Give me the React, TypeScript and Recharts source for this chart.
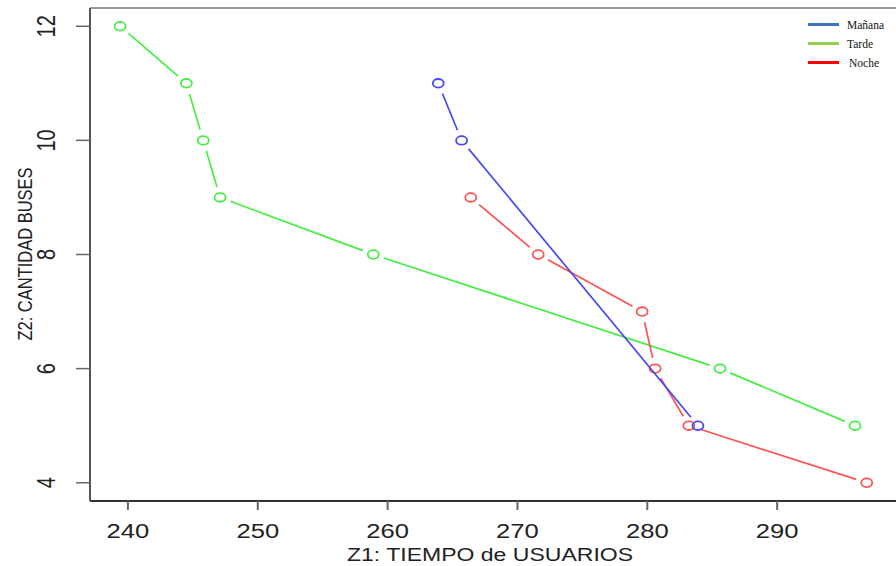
import React from 'react';
import {
    ScatterChart,
    Scatter,
    XAxis,
    YAxis,
    ReferenceLine
} from 'recharts';

// values (Z1 = tiempo, Z2 = buses)
const mananaX = [263.9, 265.7, 283.9];
const mananaY = [11, 10, 5];
const tardeX = [239.4, 244.5, 245.8, 247.1, 258.9, 285.6, 296.0];
const tardeY = [12, 11, 10, 9, 8, 6, 5];
const nocheX = [266.4, 271.6, 279.6, 280.6, 283.2, 296.9];
const nocheY = [9, 8, 7, 6, 5, 4];

const xTicks = [240, 250, 260, 270, 280, 290];
const yTicks = [4, 6, 8, 10, 12];
const xDomain: [number, number] = [237.08, 299.23];
const yDomain: [number, number] = [3.68, 12.32];

const legendItems = [
    { name: 'Mañana', color: '#4472c4' },
    { name: 'Tarde', color: '#92d050' },
    { name: 'Noche', color: '#ff0000' },
];

const toPoints = (xs: number[], ys: number[]) => xs.map((x, i) => ({ x, y: ys[i] }));

const manana = toPoints(mananaX, mananaY);
const tarde = toPoints(tardeX, tardeY);
const noche = toPoints(nocheX, nocheY);

const AXIS_FONT = '"Liberation Sans", Arial, sans-serif';
const GAP = 11;

// R type="b": segments stop short of each point
const gapLine = (color: string) => (props: any) => {
    const pts = props.points || [];
    const segs: React.ReactNode[] = [];
    for (let i = 0; i < pts.length - 1; i++) {
        const a = pts[i];
        const b = pts[i + 1];
        const dx = b.x - a.x;
        const dy = b.y - a.y;
        const len = Math.sqrt(dx * dx + dy * dy);
        if (len <= GAP * 2) continue;
        const ux = dx / len;
        const uy = dy / len;
        segs.push(
            <line
                key={i}
                x1={a.x + ux * GAP}
                y1={a.y + uy * GAP}
                x2={b.x - ux * GAP}
                y2={b.y - uy * GAP}
                stroke={color}
                strokeWidth={1.7}
            />
        );
    }
    return <g>{segs}</g>;
};

const ringShape = (color: string) => (props: any) => (
    <ellipse cx={props.cx} cy={props.cy} rx={5.5} ry={4.3} fill="none" stroke={color} strokeWidth={1.8} />
);

const XTick = (props: any) => {
    const { x, payload } = props;
    return (
        <text
            transform={`translate(${x}, 531) scale(1.28, 1)`}
            textAnchor="middle"
            dominantBaseline="central"
            fontSize={20}
            fontFamily={AXIS_FONT}
            fill="#222"
        >
            {payload.value}
        </text>
    );
};

const YTick = (props: any) => {
    const { y, payload } = props;
    return (
        <text
            transform={`translate(46, ${y}) scale(1.28, 1) rotate(-90)`}
            textAnchor="middle"
            dominantBaseline="central"
            fontSize={20}
            fontFamily={AXIS_FONT}
            fill="#222"
        >
            {payload.value}
        </text>
    );
};

const LegendBox = () => (
    <div
        style={{
            position: 'absolute',
            top: 15,
            left: 808,
            fontFamily: '"Liberation Serif", "Times New Roman", serif',
            fontSize: 11.5,
            color: '#111',
        }}
    >
        {legendItems.map((item) => (
            <div key={item.name} style={{ display: 'flex', alignItems: 'center', height: 19 }}>
                <span style={{ display: 'inline-block', width: 31, height: 3, background: item.color, marginRight: 8 }} />
                <span style={{ marginLeft: item.name === 'Noche' ? 2 : 0 }}>{item.name}</span>
            </div>
        ))}
    </div>
);

const App: React.FC = () => {
    return (
        <div style={{ position: 'absolute', top: 0, left: 0, width: 896, height: 566, overflow: 'hidden', background: '#fff' }}>
            <ScatterChart width={897} height={566} margin={{ top: 8, right: 0, bottom: 0, left: 0 }}>
                <XAxis
                    type="number"
                    dataKey="x"
                    domain={xDomain}
                    ticks={xTicks}
                    allowDataOverflow
                    height={65}
                    axisLine={{ stroke: '#333', strokeWidth: 2 }}
                    tickLine={{ stroke: '#666', strokeWidth: 2 }}
                    tickSize={9}
                    tick={<XTick />}
                />
                <YAxis
                    type="number"
                    dataKey="y"
                    domain={yDomain}
                    ticks={yTicks}
                    allowDataOverflow
                    width={90}
                    axisLine={{ stroke: '#555', strokeWidth: 2 }}
                    tickLine={{ stroke: '#666', strokeWidth: 1.5 }}
                    tickSize={14}
                    tick={<YTick />}
                />
                <ReferenceLine y={yDomain[1]} stroke="#999" strokeWidth={2} />
                <Scatter
                    name="Tarde"
                    data={tarde}
                    line={gapLine('#44ee44')}
                    shape={ringShape('#44ee44')}
                    isAnimationActive={false}
                />
                <Scatter
                    name="Noche"
                    data={noche}
                    line={gapLine('#ff5252')}
                    shape={ringShape('#ff5252')}
                    isAnimationActive={false}
                />
                <Scatter
                    name="Mañana"
                    data={manana}
                    line={gapLine('#4848f0')}
                    shape={ringShape('#4848f0')}
                    isAnimationActive={false}
                />
                <text
                    transform="translate(490, 554) scale(1.28, 1)"
                    textAnchor="middle"
                    dominantBaseline="central"
                    fontSize={18}
                    fontFamily={AXIS_FONT}
                    fill="#222"
                >
                    Z1: TIEMPO de USUARIOS
                </text>
                <text
                    transform="translate(25, 254) scale(1.28, 1) rotate(-90)"
                    textAnchor="middle"
                    dominantBaseline="central"
                    fontSize={16.5}
                    fontFamily={AXIS_FONT}
                    fill="#222"
                >
                    Z2: CANTIDAD BUSES
                </text>
            </ScatterChart>
            <LegendBox />
        </div>
    );
};

export default App;
